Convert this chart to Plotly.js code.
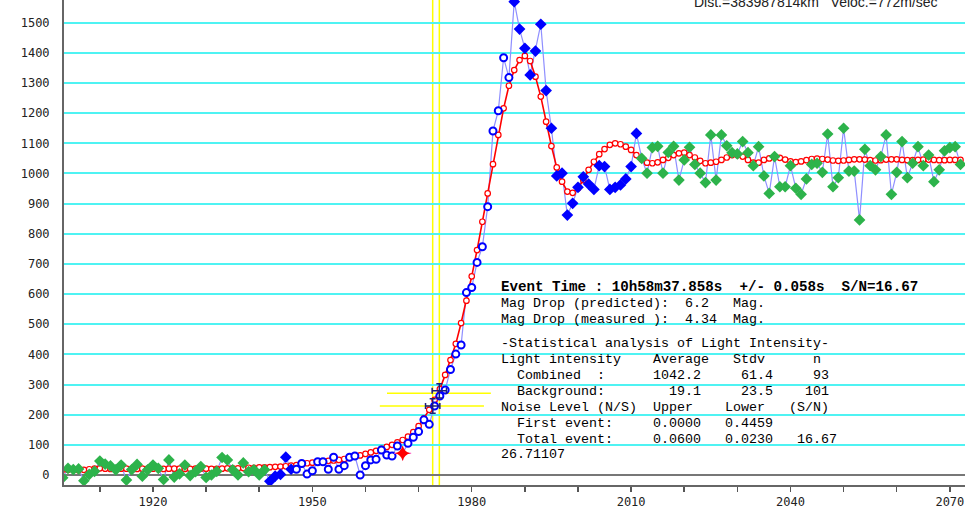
<!DOCTYPE html>
<html>
<head>
<meta charset="utf-8">
<script src="https://cdn.plot.ly/plotly-3.0.1.min.js"></script>
<style>
  html, body { margin: 0; padding: 0; background: #fff; }
  #chart { width: 969px; height: 510px; }
</style>
</head>
<body>
<div id="chart"></div>
<script>
// ---------------- DATA ----------------
const startFrame = 1903;

// measured light intensity, background before event (1903-1941)
const bgLeft = [-9, 22, 18, 20, -19, 2, 12, 46, 36, 30,
                17, 33, -17, 18, 35, -4, 17, 33, 22, -15,
                50, -7, 4, 33, -2, 11, 28, -8, 0, 12,
                58, 50, 17, 0, 40, 11, 17, 0, 17];

// measured light intensity, event window (1942-2011)
const eventVals = [-21, -4, 2, 59, 19, 19, 38, 3, 14, 44,
                   44, 19, 59, 19, 31, 59, 63, 0, 31, 50,
                   52, 83, 66, 63, 96, 72, 105, 125, 144, 183,
                   168, 229, 262, 282, 350, 401, 431, 605, 622, 705,
                   757, 890, 1141, 1208, 1384, 1318, 1570, 1479, 1415, 1327,
                   1406, 1495, 1275, 1150, 992, 1001, 862, 901, 954, 989,
                   965, 947, 1026, 1023, 947, 954, 962, 982, 1023, 1133];

// measured light intensity, background after event (2012-2072)
const bgRight = [1050, 1001, 1086, 1090, 1001, 1070, 1090, 978, 1045, 1087,
                 1030, 1001, 970, 1128, 978, 1128, 1092, 1069, 1065, 1106,
                 1069, 1026, 1089, 992, 934, 1056, 956, 956, 1026, 951,
                 931, 982, 1030, 1034, 1004, 1131, 956, 986, 1150, 1008,
                 1008, 846, 1080, 1026, 1012, 1056, 1128, 931, 1004, 1106,
                 986, 1034, 1089, 1026, 1061, 973, 1012, 1075, 1086, 1089, 1030];

// fitted (predicted) diffraction curve
const fitLeft = [17, 17, 17, 16, 17, 19, 21, 22, 21, 20,
                 20, 21, 21, 20, 20, 21, 21, 21, 20, 20,
                 21, 21, 21, 20, 20, 21, 21, 21, 20, 20,
                 21, 22, 22, 22, 23, 24, 24, 25, 25];
const fitMid = [26, 27, 28, 29, 31, 33, 36, 39, 41, 43,
                45, 47, 48, 50, 53, 57, 61, 65, 70, 75,
                80, 87, 93, 100, 108, 116, 127, 142, 162, 188,
                216, 249, 285, 332, 381, 435, 504, 578, 659, 746,
                840, 934, 1031, 1128, 1216, 1291, 1343, 1376, 1390, 1373,
                1321, 1255, 1172, 1091, 1020, 973, 940, 936, 951, 978,
                1012, 1039, 1064, 1081, 1095, 1100, 1097, 1089, 1078, 1061];
const fitRight = [1047, 1036, 1034, 1037, 1045, 1052, 1061, 1067, 1069, 1061,
                  1053, 1042, 1034, 1036, 1039, 1045, 1053, 1061, 1061, 1056,
                  1045, 1036, 1036, 1045, 1050, 1055, 1052, 1046, 1040, 1038,
                  1040, 1044, 1048, 1049, 1048, 1046, 1043, 1042, 1043, 1045,
                  1047, 1047, 1046, 1044, 1043, 1044, 1046, 1047, 1047, 1045,
                  1044, 1044, 1045, 1046, 1046, 1045, 1044, 1044, 1045, 1045, 1045];

// open-marker span and flagged frame inside the event window
const openFirst = 1947, openLast = 1987;
const flaggedFrame = 1967;
const flaggedErrX = 1.6, flaggedErrY = 23;

// event time markers (yellow lines) and their error points
const eventTimes = [1972.65, 1973.9];
const eventLevels = [229, 279];
const eventErrX = 1.35, eventErrY = 24;
const yellowBarY = [271, 229];
const yellowBarStart = [1964.05, 1962.7];
const yellowBarEnd = [1983.6, 1982.3];

// ticks
const xTickVals = [1910, 1920, 1930, 1940, 1950, 1960, 1970, 1980, 1990, 2000, 2010, 2020, 2030, 2040, 2050, 2060, 2070];
const xTickText = ['', '1920', '', '', '1950', '', '', '1980', '', '', '2010', '', '', '2040', '', '', '2070'];
const yTickVals = [0, 100, 200, 300, 400, 500, 600, 700, 800, 900, 1000, 1100, 1200, 1300, 1400, 1500];
const yTickText = ['0', '100', '200', '300', '400', '500', '600', '700', '800', '900', '1000', '1100', '1200', '1300', '1400', '1500'];

const headerText = 'Dist.=383987814km   Veloc.=772m/sec';
const statLines = [
  'Event Time : 10h58m37.858s  +/- 0.058s  S/N=16.67',
  'Mag Drop (predicted):  6.2   Mag.',
  'Mag Drop (measured ):  4.34  Mag.',
  '-Statistical analysis of Light Intensity-',
  'Light intensity    Average   Stdv      n',
  '  Combined  :      1042.2     61.4     93',
  '  Background:        19.1     23.5    101',
  'Noise Level (N/S)  Upper    Lower   (S/N)',
  '  First event:     0.0000   0.4459',
  '  Total event:     0.0600   0.0230   16.67',
  '26.71107'
];

// ---------------- BUILD ----------------
const measured = bgLeft.concat(eventVals, bgRight);
const fit = fitLeft.concat(fitMid, fitRight);
const frames = measured.map((_, i) => startFrame + i);

const bgX = [], bgY = [], fillX = [], fillY = [], openX = [], openY = [];
let flagY = null;
frames.forEach((f, i) => {
  const v = measured[i];
  const inEvent = i >= bgLeft.length && i < bgLeft.length + eventVals.length;
  if (!inEvent) { bgX.push(f); bgY.push(v); return; }
  if (f === flaggedFrame) { flagY = v; return; }
  if (f >= openFirst && f <= openLast) { openX.push(f); openY.push(v); }
  else { fillX.push(f); fillY.push(v); }
});

const yellowX = [], yellowY = [];
yellowBarY.forEach((y, k) => {
  yellowX.push(yellowBarStart[k], yellowBarEnd[k], null);
  yellowY.push(y, y, null);
});

const traces = [
  { x: yellowX, y: yellowY, mode: 'lines', line: { color: '#ffff00', width: 1.5 }, hoverinfo: 'skip' },
  { x: frames, y: measured, mode: 'lines', line: { color: '#8f8fff', width: 1.2 } },
  { x: frames, y: fit, mode: 'lines+markers', line: { color: '#ff0000', width: 1.6 },
    marker: { symbol: 'circle', size: 5.5, color: '#ffffff', line: { color: '#ff0000', width: 1.2 } } },
  { x: bgX, y: bgY, mode: 'markers', marker: { symbol: 'diamond', size: 9, color: '#2db34b' } },
  { x: fillX, y: fillY, mode: 'markers', marker: { symbol: 'diamond', size: 9, color: '#0000ff' } },
  { x: openX, y: openY, mode: 'markers',
    marker: { symbol: 'circle', size: 7, color: '#ffffff', line: { color: '#0000ff', width: 2 } } },
  { x: [flaggedFrame], y: [flagY], mode: 'markers',
    marker: { symbol: 'star-diamond', size: 11, color: '#ff0000' },
    error_x: { type: 'constant', value: flaggedErrX, color: '#ff66cc', thickness: 1.2, width: 0 },
    error_y: { type: 'constant', value: flaggedErrY, color: '#ff66cc', thickness: 1.2, width: 0 } },
  { x: eventTimes, y: eventLevels, mode: 'markers',
    marker: { size: 1, color: 'rgba(0,0,0,0)' },
    error_x: { type: 'constant', value: eventErrX, color: '#1e1e78', thickness: 1.5, width: 3 },
    error_y: { type: 'constant', value: eventErrY, color: '#1e1e78', thickness: 1.5, width: 3 } }
];

// ---------------- LAYOUT ----------------
const W = 969, H = 510, L = 64, R = 4, T = 0, B = 25;
const pw = W - L - R, ph = H - T - B;
const px2x = p => (p - L) / pw;
const px2y = p => 1 - (p - T) / ph;

const nb = s => s.replace(/ /g, '\u00a0');
const lineCenters = [286.7, 303.5, 319.5, 343.3, 359.5, 375.5, 391.5, 407.3, 423.3, 439, 454.5];
const annotations = statLines.map((s, k) => ({
  xref: 'paper', yref: 'paper', x: px2x(499), y: px2y(lineCenters[k]),
  xanchor: 'left', yanchor: 'middle', showarrow: false,
  text: k === 0 ? '<b>' + nb(s) + '</b>' : nb(s),
  font: { family: 'Liberation Mono, monospace', size: k === 0 ? 14.2 : 13.33, color: '#000' }
}));
annotations.push({
  xref: 'paper', yref: 'paper', x: px2x(692), y: px2y(2), xanchor: 'left', yanchor: 'middle',
  showarrow: false, text: nb(headerText),
  font: { family: 'Liberation Sans, Arial, sans-serif', size: 14, color: '#222' }
});

const shapes = eventTimes.map(t => ({
  type: 'line', xref: 'x', yref: 'paper', x0: t, x1: t, y0: 0, y1: 1,
  line: { color: '#ffff00', width: 1.5 }, layer: 'below'
}));

const layout = {
  width: W, height: H,
  margin: { l: L, r: R, t: T, b: B, pad: 0 },
  paper_bgcolor: '#ffffff', plot_bgcolor: '#ffffff',
  showlegend: false,
  font: { family: 'DejaVu Sans Mono, monospace', size: 12, color: '#222' },
  xaxis: {
    range: [1903.25, 2072.85], tickmode: 'array', tickvals: xTickVals, ticktext: xTickText,
    ticks: 'outside', ticklen: 5, tickwidth: 1.5, tickcolor: '#555',
    showline: true, linecolor: '#666', linewidth: 2, showgrid: false, zeroline: false,
    tickfont: { family: 'DejaVu Sans Mono, monospace', size: 12, color: '#222' },
    fixedrange: true
  },
  yaxis: {
    range: [-33.2, 1575.4], tickmode: 'array', tickvals: yTickVals, ticktext: yTickText,
    ticks: '', showline: true, linecolor: '#666', linewidth: 2,
    showgrid: true, gridcolor: '#4ff3f3', gridwidth: 2,
    zeroline: true, zerolinecolor: '#777', zerolinewidth: 2,
    ticklabelstandoff: 10,
    tickfont: { family: 'DejaVu Sans Mono, monospace', size: 12, color: '#222' },
    fixedrange: true
  },
  annotations: annotations,
  shapes: shapes
};

Plotly.newPlot('chart', traces, layout, { staticPlot: true, displayModeBar: false });
</script>
</body>
</html>
